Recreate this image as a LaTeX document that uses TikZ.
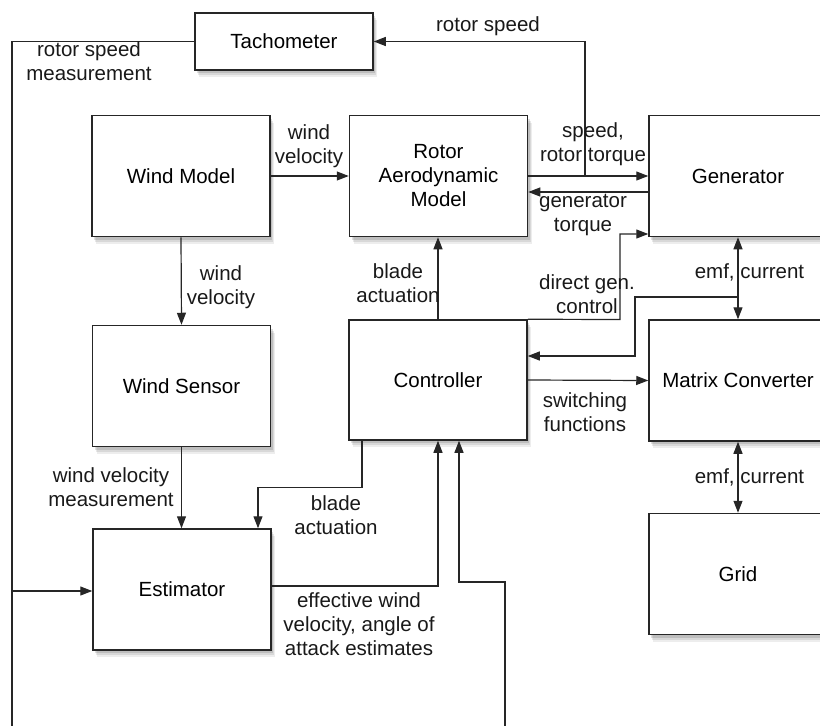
\documentclass[tikz,border=0pt]{standalone}
\usepackage{fontspec}
\setmainfont{Liberation Sans}
\usetikzlibrary{arrows.meta,shadows}
\begin{document}
\begin{tikzpicture}[x=1pt,y=-1pt,
  txt/.style={font=\fontsize{20.5}{24}\selectfont},
  blk/.style={txt, draw=black!85, line width=1.5pt, fill=white,
    minimum width=178pt, minimum height=121pt, inner sep=0pt, align=center,
    general shadow={fill=black, opacity=0.07, shadow xshift=4pt, shadow yshift=-7pt},
    general shadow={fill=black, opacity=0.09, shadow xshift=3pt, shadow yshift=-5pt},
    general shadow={fill=black, opacity=0.12, shadow xshift=2pt, shadow yshift=-3pt}},
  lbl/.style={txt, align=center, inner sep=0pt, text=black!90},
  conn/.style={line width=1.2pt, draw=black!85},
  arr/.style={conn, -{Triangle[length=12pt,width=9pt]}},
  darr/.style={conn, {Triangle[length=12pt,width=9pt]}-{Triangle[length=12pt,width=9pt]}}
]
\useasboundingbox (0,0) rectangle (820,726);
\clip (0,0) rectangle (820,726);

% boxes
\node[blk, minimum height=57pt] (tach) at (284,41.5) {Tachometer};
\node[blk] (wm)   at (181,176)   {Wind Model};
\node[blk] (rot)  at (438.5,176) {Rotor\\Aerodynamic\\Model};
\node[blk] (gen)  at (738,176)   {Generator};
\node[blk] (ws)   at (181.5,386) {Wind Sensor};
\node[blk, minimum height=120pt] (ctl) at (438,380) {Controller};
\node[blk] (mc)   at (738,380.5) {Matrix Converter};
\node[blk] (est)  at (182,589.5) {Estimator};
\node[blk] (grid) at (738,574)   {Grid};

% helper coordinates
\coordinate (fb) at (505,582);
\coordinate (fc) at (459,582);
\coordinate (ein) at (12,591);
\coordinate (rs) at (585,176);
\coordinate (dg) at (620,319.5);
\coordinate (eb) at (738,297);
\coordinate (eb2) at (635,297);

% connectors
\draw[arr] (tach.west) -| (12,760) -| (fb) -- (fc) -- (fc |- ctl.south);
\draw[arr] (ein) -- (ein -| est.west);
\draw[arr] (wm) -- (rot);
\draw[arr] (wm.south) -- (ws.north);
\draw[arr] (ws.south) -- (ws.south |- est.north);
\draw[arr] (ctl.north) -- (ctl.north |- rot.south);
\draw[arr] (rot.east) -- (gen.west);
\draw[arr] (rs) |- (tach.east);
\draw[arr] ([yshift=-16pt]gen.west) -- ([yshift=-16pt]rot.east);
\draw[arr] (ctl.north east) -- (dg) |- ([yshift=-58pt]gen.west);
\draw[darr] (gen.south) -- (mc.north);
\draw[arr] (eb) -- (eb2) |- ([yshift=24pt]ctl.east);
\draw[arr] (ctl.east) -- (mc.west);
\draw[darr] (mc.south) -- (grid.north);
\draw[arr] ([xshift=-76pt]ctl.south) -- ++(0,47) -| ([xshift=76pt]est.north);
\draw[arr] ([yshift=3.5pt]est.east) -| (ctl.south);

% labels
\node[lbl] (l1) at (89,61) {rotor speed\\measurement};
\node[lbl] (l2) at (488,26) {rotor speed};
\node[lbl] (l3) at (309,146) {wind\\velocity};
\node[lbl] (l4) at (593,144) {speed,\\rotor torque};
\node[lbl] (l5) at (583,215) {generator\\torque};
\node[lbl] (l6) at (221,287) {wind\\velocity};
\node[lbl] (l7) at (398,283) {blade\\actuation};
\node[lbl] (l8) at (587,294) {direct gen.\\control};
\node[lbl] (l9) at (749.5,272) {emf, current};
\node[lbl] (l10) at (585,412) {switching\\functions};
\node[lbl] (l11) at (749.5,477) {emf, current};
\node[lbl] (l12) at (111,487) {wind velocity\\measurement};
\node[lbl] (l13) at (336,515) {blade\\actuation};
\node[lbl] (l14) at (359,624) {effective wind\\velocity, angle of\\attack estimates};
\end{tikzpicture}
\end{document}
